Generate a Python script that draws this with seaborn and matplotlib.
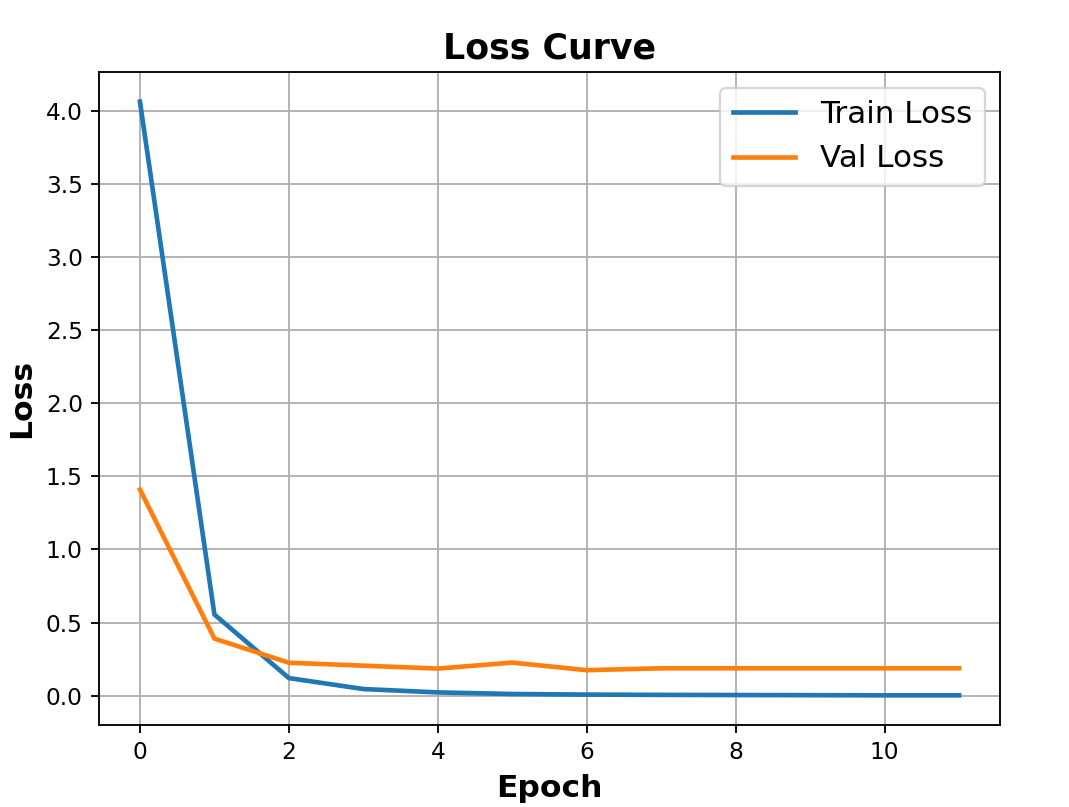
import matplotlib
matplotlib.use("Agg")
import matplotlib.pyplot as plt
import seaborn as sns
import pandas as pd

epochs = list(range(12))
train_loss = [4.064, 0.555, 0.12, 0.045, 0.022, 0.011, 0.007, 0.005, 0.004, 0.003, 0.002, 0.002]
val_loss = [1.41, 0.39, 0.225, 0.205, 0.185, 0.226, 0.174, 0.187, 0.187, 0.187, 0.187, 0.187]

df = pd.concat([
    pd.DataFrame({"Epoch": epochs, "Loss": train_loss, "Series": "Train Loss"}),
    pd.DataFrame({"Epoch": epochs, "Loss": val_loss, "Series": "Val Loss"}),
])

fig, ax = plt.subplots(figsize=(1069 / 167, 807 / 167), dpi=167)
fig.subplots_adjust(left=0.0926, right=0.9355, top=0.9108, bottom=0.1016)

sns.lineplot(data=df, x="Epoch", y="Loss", hue="Series",
             palette=["#1f77b4", "#ff7f0e"], linewidth=2, ax=ax)

ax.set_title("Loss Curve", fontsize=15, fontweight="bold")
ax.set_xlabel("Epoch", fontsize=13.5, fontweight="bold")
ax.set_ylabel("Loss", fontsize=13.5, fontweight="bold")
ax.tick_params(labelsize=10)
ax.grid(True)
ax.legend(title=None, fontsize=13.4, loc="upper right")

fig.savefig("out.png", dpi=167)
